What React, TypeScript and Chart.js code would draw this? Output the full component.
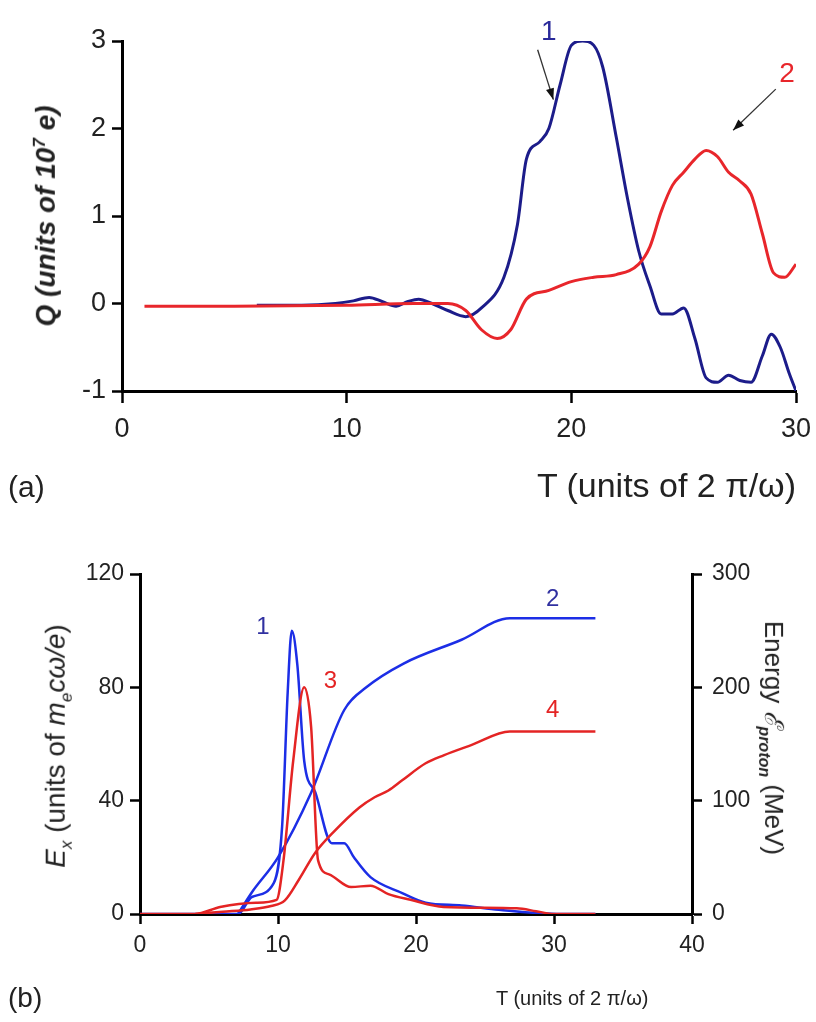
import { useEffect, useRef } from "react"
import { Chart, registerables } from "chart.js"

Chart.register(...registerables)

const FONT = "'Liberation Sans Narrow', 'Liberation Sans', Arial, sans-serif"

// panel (a): charge Q vs T
const qTicks = [-1, 0, 1, 2, 3]
const tA1 = [6, 8, 9.5, 10.3, 11, 11.6, 12.2, 12.7, 13.2, 13.8, 14.5, 15.3, 16, 17, 17.6, 18, 18.6, 19, 19.5, 20, 20.5, 21, 21.4, 22, 22.5, 23, 23.5, 24, 24.5, 25, 25.5, 26, 26.5, 27, 27.5, 28, 28.5, 28.9, 29.3, 29.7, 30]
const qA1 = [-0.02, -0.02, 0, 0.03, 0.07, 0.02, -0.03, 0.02, 0.05, 0, -0.08, -0.15, -0.05, 0.3, 0.9, 1.65, 1.85, 2.0, 2.5, 2.95, 3.0, 2.95, 2.7, 1.9, 1.2, 0.6, 0.2, -0.12, -0.12, -0.05, -0.4, -0.85, -0.9, -0.82, -0.88, -0.9, -0.6, -0.35, -0.5, -0.8, -1.0]
const tA2 = [1, 5, 10, 13, 14.5, 15.3, 16, 16.7, 17.3, 18, 19, 20, 21, 22, 23, 23.5, 24, 24.5, 25, 25.5, 26, 26.5, 27, 27.5, 28, 28.5, 29, 29.5, 30]
const qA2 = [-0.03, -0.03, -0.02, 0, 0, -0.08, -0.3, -0.4, -0.3, 0.05, 0.15, 0.25, 0.3, 0.33, 0.45, 0.65, 1.05, 1.35, 1.5, 1.65, 1.75, 1.68, 1.5, 1.4, 1.25, 0.8, 0.35, 0.3, 0.45]

// panel (b): field Ex and proton energy vs T
const tB1 = [0, 7.1, 8.1, 9.7, 10.3, 10.7, 11, 11.4, 11.9, 12.7, 13.9, 14.8, 15.5, 16.7, 19, 20.7, 23.3, 26, 30.5, 33]
const exB1 = [0, 0, 6, 11, 31, 78, 100, 88, 54, 43, 25, 25, 20, 13, 7.4, 4, 3, 1.5, 0, 0]
const tB3 = [0, 4, 5.8, 8.4, 9.9, 10.4, 11.1, 11.9, 12.4, 12.9, 13.7, 15.3, 16.7, 18, 19.6, 22, 27.3, 28.7, 30, 33]
const exB3 = [0, 0, 2.5, 4, 5, 19, 54, 80, 66, 19, 14, 9.5, 10, 7, 5, 2.5, 2, 1, 0, 0]
const tB2 = [7.1, 8.1, 10, 12.4, 14.8, 16.4, 19.1, 23.3, 26.8, 33]
const eB2 = [0, 19, 50, 107, 180, 200, 221, 242, 261, 261]
const tB4 = [4, 6, 8, 9.5, 10.5, 11.5, 12.7, 14, 15.9, 17, 18, 19, 20.7, 22, 24, 26.8, 33]
const eB4 = [0, 2, 4, 7, 12, 30, 54, 72, 94, 103, 109, 118, 133, 140, 149, 161, 161]
const exTicks = [0, 40, 80, 120]
const eTicks = [0, 100, 200, 300]

const pts = (xs: number[], ys: number[]) => xs.map((x, i) => ({ x, y: ys[i] }))

type Note = { text: string; color: string; x: number; y: number; arrow?: [number, number, number, number] }

const notesPlugin = (notes: Note[], yId: string, size: number) => ({
  id: "notes",
  afterDatasetsDraw(chart: any) {
    const { ctx, scales } = chart
    const sx = scales.x
    const sy = scales[yId]
    ctx.save()
    ctx.font = `${size}px ${FONT}`
    ctx.textAlign = "center"
    ctx.textBaseline = "middle"
    for (const n of notes) {
      ctx.fillStyle = n.color
      ctx.fillText(n.text, sx.getPixelForValue(n.x), sy.getPixelForValue(n.y))
      if (n.arrow) {
        const [x0, y0, x1, y1] = n.arrow
        const px0 = sx.getPixelForValue(x0), py0 = sy.getPixelForValue(y0)
        const px1 = sx.getPixelForValue(x1), py1 = sy.getPixelForValue(y1)
        ctx.strokeStyle = "#333"
        ctx.fillStyle = "#111"
        ctx.lineWidth = 1.3
        ctx.beginPath(); ctx.moveTo(px0, py0); ctx.lineTo(px1, py1); ctx.stroke()
        const a = Math.atan2(py1 - py0, px1 - px0)
        ctx.beginPath()
        ctx.moveTo(px1, py1)
        ctx.lineTo(px1 - 12 * Math.cos(a - 0.35), py1 - 12 * Math.sin(a - 0.35))
        ctx.lineTo(px1 - 12 * Math.cos(a + 0.35), py1 - 12 * Math.sin(a + 0.35))
        ctx.closePath(); ctx.fill()
      }
    }
    ctx.restore()
  },
})

const tickGrid = (len: number) => ({
  display: true, drawOnChartArea: false, drawTicks: true, tickLength: len, tickColor: "#000", tickWidth: 2.5,
})

function PanelA() {
  const ref = useRef<HTMLCanvasElement>(null)
  useEffect(() => {
    const chart = new Chart(ref.current!, {
      type: "scatter",
      data: {
        datasets: [
          { data: pts(tA2, qA2), borderColor: "#e8262b", borderWidth: 3, showLine: true, pointRadius: 0, cubicInterpolationMode: "monotone" },
          { data: pts(tA1, qA1), borderColor: "#1c1c8a", borderWidth: 3, showLine: true, pointRadius: 0, cubicInterpolationMode: "monotone" },
        ],
      },
      options: {
        animation: false,
        responsive: false,
        layout: { padding: { top: 41, right: 20, left: 0, bottom: 0 } },
        plugins: { legend: { display: false }, tooltip: { enabled: false } },
        scales: {
          x: {
            type: "linear", min: 0, max: 30,
            afterFit: (s: any) => { s.height = 129; s.paddingRight = 0 },
            afterBuildTicks: (s: any) => { s.ticks = [0, 10, 20, 30].map((v) => ({ value: v })) },
            grid: tickGrid(12),
            border: { color: "#000", width: 3 },
            ticks: { color: "#222", font: { family: FONT, size: 27 }, padding: 10, maxRotation: 0 },
          },
          y: {
            min: -1, max: 3,
            afterFit: (s: any) => { s.width = 122 },
            afterBuildTicks: (s: any) => { s.ticks = qTicks.map((v) => ({ value: v })) },
            grid: tickGrid(10),
            border: { color: "#000", width: 3 },
            ticks: { color: "#222", font: { family: FONT, size: 27 }, padding: 6 },
          },
        },
      },
      plugins: [notesPlugin([
        { text: "1", color: "#2a2a9a", x: 19.0, y: 3.1, arrow: [18.5, 2.9, 19.2, 2.33] },
        { text: "2", color: "#e8262b", x: 29.6, y: 2.62, arrow: [29.1, 2.45, 27.2, 1.98] },
      ], "y", 28)],
    } as any)
    return () => chart.destroy()
  }, [])
  return <canvas ref={ref} width={816} height={520} style={{ position: "absolute", left: 0, top: 0 }} />
}

function PanelB() {
  const ref = useRef<HTMLCanvasElement>(null)
  useEffect(() => {
    const line = (xs: number[], ys: number[], color: string, axis: string) => ({
      data: pts(xs, ys), borderColor: color, borderWidth: 2.5, showLine: true, pointRadius: 0, cubicInterpolationMode: "monotone", yAxisID: axis,
    })
    const tickFont = { family: FONT, size: 23 }
    const chart = new Chart(ref.current!, {
      type: "scatter",
      data: {
        datasets: [
          line(tB3, exB3, "#e42424", "y"),
          line(tB4, eB4, "#e42424", "y2"),
          line(tB1, exB1, "#1c2ee6", "y"),
          line(tB2, eB2, "#1c2ee6", "y2"),
        ],
      },
      options: {
        animation: false,
        responsive: false,
        layout: { padding: { top: 34, right: 0, left: 0, bottom: 0 } },
        plugins: { legend: { display: false }, tooltip: { enabled: false } },
        scales: {
          x: {
            type: "linear", min: 0, max: 40,
            afterFit: (s: any) => { s.height = 108 },
            afterBuildTicks: (s: any) => { s.ticks = [0, 10, 20, 30, 40].map((v) => ({ value: v })) },
            grid: tickGrid(10),
            border: { color: "#000", width: 3 },
            ticks: { color: "#222", font: tickFont, padding: 8, maxRotation: 0 },
          },
          y: {
            position: "left", min: 0, max: 120,
            afterFit: (s: any) => { s.width = 140 },
            afterBuildTicks: (s: any) => { s.ticks = exTicks.map((v) => ({ value: v })) },
            grid: tickGrid(10),
            border: { color: "#000", width: 3 },
            ticks: { color: "#222", font: tickFont, padding: 6 },
          },
          y2: {
            position: "right", min: 0, max: 300,
            afterFit: (s: any) => { s.width = 124 },
            afterBuildTicks: (s: any) => { s.ticks = eTicks.map((v) => ({ value: v })) },
            grid: tickGrid(10),
            border: { color: "#000", width: 3 },
            ticks: { color: "#222", font: tickFont, padding: 10 },
          },
        },
      },
      plugins: [notesPlugin([
        { text: "1", color: "#3030a0", x: 8.9, y: 101 },
        { text: "3", color: "#e42424", x: 13.8, y: 82 },
        { text: "2", color: "#3030a0", x: 29.9, y: 111 },
        { text: "4", color: "#e42424", x: 29.9, y: 72 },
      ], "y", 24)],
    } as any)
    return () => chart.destroy()
  }, [])
  return <canvas ref={ref} width={816} height={482} style={{ position: "absolute", left: 0, top: 540 }} />
}

const txt: React.CSSProperties = { position: "absolute", fontFamily: FONT, color: "#222", whiteSpace: "nowrap" }

export default function App() {
  return (
    <div style={{ position: "fixed", left: 0, top: 0, width: 816, height: 1022, background: "#fff", overflow: "hidden" }}>
      <PanelA />
      <PanelB />
      <div style={{ ...txt, left: 46, top: 216, fontSize: 28, fontWeight: "bold", fontStyle: "italic", transform: "translate(-50%,-50%) rotate(-90deg)" }}>
        Q (units of 10<sup style={{ fontSize: 17 }}>7</sup> e)
      </div>
      <div style={{ ...txt, left: 8, top: 470, fontSize: 30 }}>(a)</div>
      <div style={{ ...txt, right: 20, top: 466, fontSize: 34 }}>T (units of 2 π/ω)</div>
      <div style={{ ...txt, left: 58, top: 746, fontSize: 28, transform: "translate(-50%,-50%) rotate(-90deg)" }}>
        <i>E<sub style={{ fontSize: 17 }}>x</sub></i> (units of <i>m<sub style={{ fontSize: 17 }}>e</sub>cω/e</i>)
      </div>
      <div style={{ ...txt, left: 774, top: 738, fontSize: 26, transform: "translate(-50%,-50%) rotate(90deg)" }}>
        Energy <i>ℰ<sub style={{ fontSize: 16, fontWeight: "bold" }}>proton</sub></i> (MeV)
      </div>
      <div style={{ ...txt, left: 8, top: 982, fontSize: 28 }}>(b)</div>
      <div style={{ ...txt, left: 496, top: 987, fontSize: 20 }}>T (units of 2 π/ω)</div>
    </div>
  )
}
